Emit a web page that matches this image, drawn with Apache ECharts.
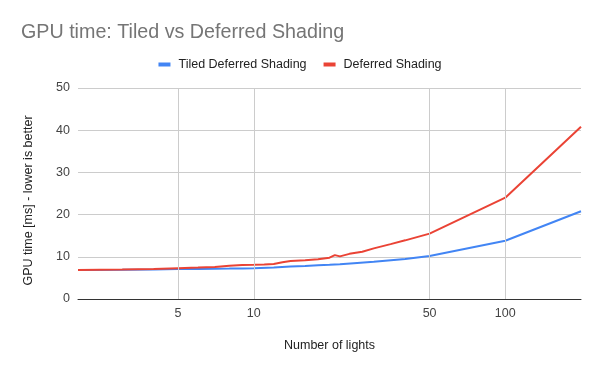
<!DOCTYPE html>
<html><head><meta charset="utf-8">
<script src="https://cdn.jsdelivr.net/npm/echarts@6/dist/echarts.min.js"></script>
<style>html,body{margin:0;padding:0;background:#fff}#c{width:600px;height:371px}</style>
</head><body><div id="c"></div>
<script>
const tiledX = [2,3,4,5,6,7,8,9,10,12,14,16,18,20,22,25,30,40,50,100,200];
const tiledY = [6.9,6.95,7.0,7.1,7.1,7.15,7.2,7.25,7.3,7.45,7.7,7.8,8.0,8.1,8.25,8.5,8.8,9.5,10.2,13.8,20.8];
const defX = [2,3,4,5,6,7,8,9,10,11,12,13,14,16,18,20,21,22,24,27,30,35,40,50,100,200];
const defY = [6.9,7.0,7.1,7.3,7.45,7.6,7.9,8.05,8.1,8.2,8.3,8.7,9.0,9.2,9.4,9.8,10.4,10.1,10.7,11.2,12.0,13.0,13.9,15.5,24.0,40.8];
const xTicks = [5,10,50,100];
const seriesNames = ['Tiled Deferred Shading','Deferred Shading'];
const FONT = 'Liberation Sans, Arial, sans-serif';
const FS = 12.5;

const chart = echarts.init(document.getElementById('c'));
chart.setOption({
  animation:false,
  textStyle:{fontFamily:FONT},
  title:{text:'GPU time: Tiled vs Deferred Shading', left:16, top:18,
    textStyle:{fontFamily:FONT, fontSize:19.7, fontWeight:'normal', color:'#757575'}},
  legend:{top:53, left:'center', icon:'rect', itemWidth:12, itemHeight:4, itemGap:17,
    textStyle:{fontFamily:FONT, fontSize:FS, color:'#222', padding:[0,0,0,3]}, data:seriesNames},
  grid:{left:78, right:19, top:88, bottom:72},
  xAxis:{type:'log', logBase:10, min:2, max:200,
    name:'Number of lights', nameLocation:'middle', nameGap:40,
    nameTextStyle:{fontFamily:FONT, fontSize:FS, color:'#222'},
    axisLine:{lineStyle:{color:'#333', width:1}},
    axisTick:{show:false},
    splitLine:{show:false},
    axisLabel:{customValues:xTicks, fontFamily:FONT, fontSize:FS, color:'#444', margin:8}},
  yAxis:{type:'value', min:0, max:50, interval:10,
    name:'GPU time [ms] - lower is better', nameLocation:'middle', nameGap:43,
    nameTextStyle:{fontFamily:FONT, fontSize:FS, color:'#222', padding:[0,14,0,0]},
    axisLine:{show:false}, axisTick:{show:false},
    splitLine:{lineStyle:{color:'#cccccc', width:1}},
    axisLabel:{fontFamily:FONT, fontSize:FS, color:'#444', margin:8}},
  series:[
    {type:'line', name:'_grid', data:[], silent:true, z:1,
     markLine:{silent:true, symbol:'none', label:{show:false},
       lineStyle:{color:'#cccccc', width:1, type:'solid'},
       data:xTicks.map(v=>({xAxis:v}))}},
    {type:'line', name:seriesNames[0], showSymbol:false, z:3,
     data:tiledX.map((x,i)=>[x,tiledY[i]]),
     lineStyle:{width:2, color:'#4285F4'}, itemStyle:{color:'#4285F4'}},
    {type:'line', name:seriesNames[1], showSymbol:false, z:4,
     data:defX.map((x,i)=>[x,defY[i]]),
     lineStyle:{width:2, color:'#EA4335'}, itemStyle:{color:'#EA4335'}}
  ]
});
</script></body></html>
